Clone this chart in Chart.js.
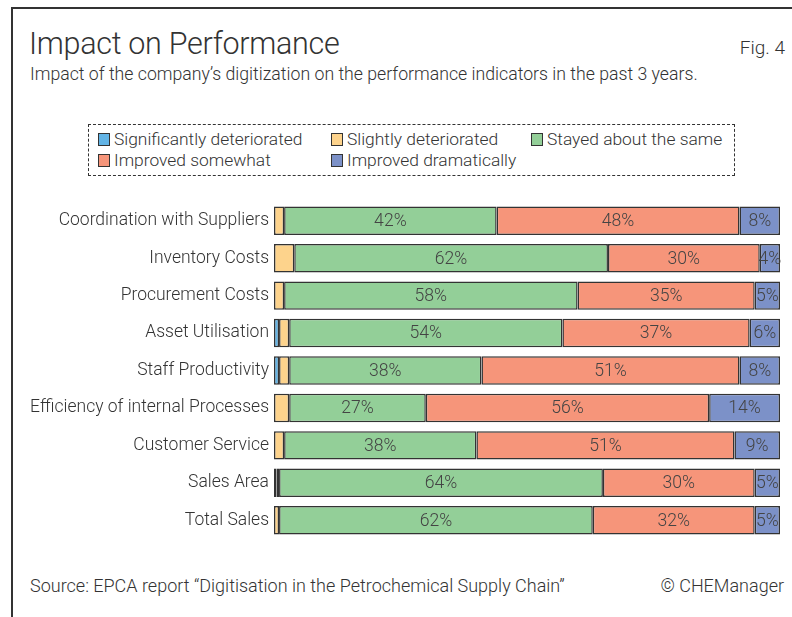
<!DOCTYPE html>
<html>
<head>
<meta charset="utf-8">
<script src="https://cdn.jsdelivr.net/npm/chart.js@4.4.0/dist/chart.umd.min.js"></script>
<style>
  body { margin:0; width:792px; height:617px; background:#fff; overflow:hidden; position:relative;
         font-family: Roboto, "Liberation Sans", sans-serif; font-weight:300; color:#333; }
  #frame { position:absolute; left:11px; top:7px; width:900px; height:700px;
           border-left:2px solid #333; border-top:2px solid #333; }
  #title { position:absolute; left:29px; top:26px; font-size:30.5px; letter-spacing:-0.3px; color:#333; }
  #fig { position:absolute; right:7px; top:36px; font-size:19px; color:#333; }
  #subtitle { position:absolute; left:30px; top:64px; font-size:17.7px; color:#333; }
  #legend { position:absolute; left:88px; top:124px; width:645px; height:50px;
            border:1.5px dashed #333; }
  .item { position:absolute; font-size:17.4px; line-height:18px; white-space:nowrap; color:#333; }
  .item span { display:inline-block; width:12px; height:13px; border:1.5px solid #333;
               vertical-align:-1px; margin-right:4px; box-sizing:border-box; }
  #wrap { position:absolute; left:0; top:202px; width:792px; height:337px; }
  #source { position:absolute; left:30px; top:575px; font-size:18px; color:#333; }
  #copy { position:absolute; right:8px; top:575px; font-size:18px; color:#333; }
</style>
</head>
<body>
<div id="frame"></div>
<div id="title">Impact on Performance</div>
<div id="fig">Fig. 4</div>
<div id="subtitle">Impact of the company’s digitization on the performance indicators in the past 3 years.</div>
<div id="legend"></div>
<div id="wrap"><canvas id="chart"></canvas></div>
<div id="source">Source: EPCA report “Digitisation in the Petrochemical Supply Chain”</div>
<div id="copy">© CHEManager</div>
<script>
'use strict';
var categories = ['Coordination with Suppliers', 'Inventory Costs', 'Procurement Costs', 'Asset Utilisation',
  'Staff Productivity', 'Efficiency of internal Processes', 'Customer Service', 'Sales Area', 'Total Sales'];
var seriesNames = ['Significantly deteriorated', 'Slightly deteriorated', 'Stayed about the same',
  'Improved somewhat', 'Improved dramatically'];
var sigDeteriorated = [0, 0, 0, 1, 1, 0, 0, 0.5, 0];
var slightDeteriorated = [2, 4, 2, 2, 2, 3, 2, 0.5, 1];
var stayedSame = [42, 62, 58, 54, 38, 27, 38, 64, 62];
var improvedSomewhat = [48, 30, 35, 37, 51, 56, 51, 30, 32];
var improvedDramatically = [8, 4, 5, 6, 8, 14, 9, 5, 5];
var colors = ['#62b4e6', '#fdd38c', '#93cf98', '#f6957a', '#7c91c8'];

var values = [sigDeteriorated, slightDeteriorated, stayedSame, improvedSomewhat, improvedDramatically];

// legend built from the series
var legendPos = [[9, 5], [242, 5], [442, 5], [9, 26], [242, 26]];
var legend = document.getElementById('legend');
seriesNames.forEach(function(name, i){
  var d = document.createElement('div');
  d.className = 'item';
  d.style.left = legendPos[i][0] + 'px';
  d.style.top = legendPos[i][1] + 'px';
  d.innerHTML = '<span style="background:' + colors[i] + '"></span>' + name;
  legend.appendChild(d);
});

var segLabels = {
  id: 'segLabels',
  afterDatasetsDraw: function(chart){
    var ctx = chart.ctx;
    ctx.save();
    ctx.font = '300 17.6px Roboto, "Liberation Sans", sans-serif';
    ctx.fillStyle = '#444';
    ctx.textAlign = 'center';
    ctx.textBaseline = 'middle';
    chart.data.datasets.forEach(function(ds, i){
      if (i < 2) return;
      chart.getDatasetMeta(i).data.forEach(function(bar, j){
        var c = bar.getCenterPoint();
        ctx.fillText(Math.round(ds.data[j]) + '%', c.x, c.y + 1);
      });
    });
    ctx.restore();
  }
};

new Chart(document.getElementById('chart'), {
  type: 'bar',
  data: {
    labels: categories,
    datasets: values.map(function(v, i){
      return {
        label: seriesNames[i],
        data: v,
        backgroundColor: colors[i],
        borderColor: '#333',
        borderWidth: 1.5,
        borderSkipped: false,
        barPercentage: 0.76,
        categoryPercentage: 1
      };
    })
  },
  options: {
    indexAxis: 'y',
    responsive: true,
    maintainAspectRatio: false,
    animation: false,
    layout: { padding: { left: 0, right: 12, top: 0, bottom: 0 } },
    plugins: { legend: { display: false }, tooltip: { enabled: false } },
    scales: {
      x: { stacked: true, min: 0, max: 100, display: false },
      y: {
        stacked: true,
        grid: { display: false, drawTicks: false },
        border: { display: false },
        ticks: { color: '#333', padding: 5, font: { family: 'Roboto, "Liberation Sans", sans-serif', size: 17.5, weight: '300' } },
        afterFit: function(scale){
          scale.width = 274;
          scale.paddingTop = 0;
          scale.paddingBottom = 0;
        }
      }
    }
  },
  plugins: [segLabels]
});
</script>
</body>
</html>
